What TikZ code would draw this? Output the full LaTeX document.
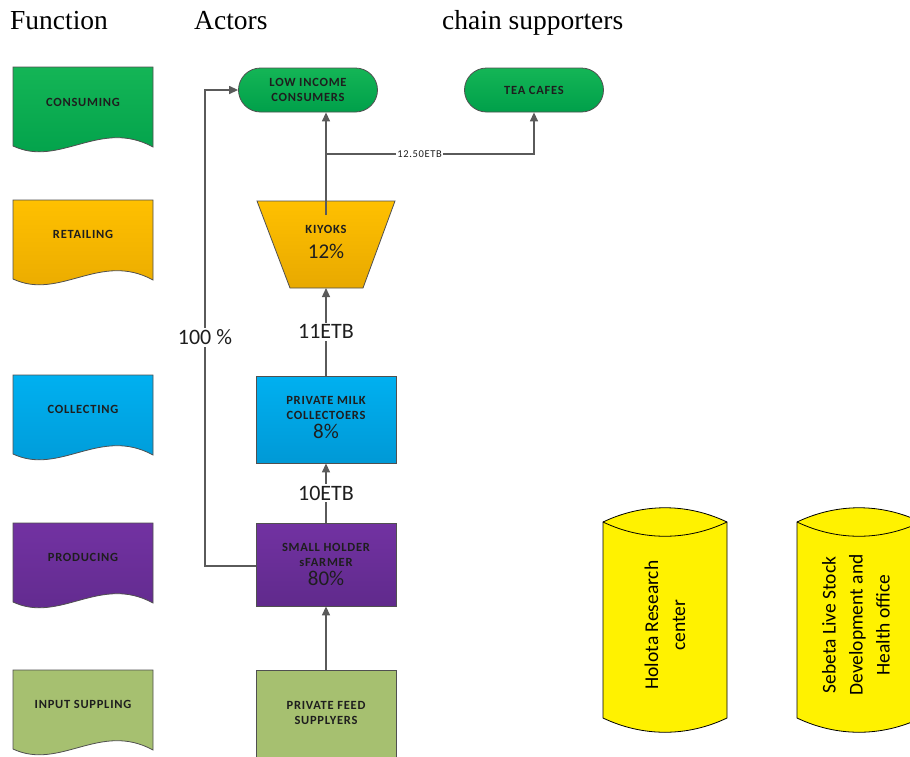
\documentclass[tikz,border=0pt]{standalone}
\usepackage{fontspec}
\setmainfont{Liberation Serif}
\newfontfamily\labfont[LetterSpace=6]{Carlito}
\newfontfamily\calfont{Carlito}
\usetikzlibrary{arrows.meta}
\definecolor{gtop}{HTML}{14B556}
\definecolor{gbot}{HTML}{00A04A}
\definecolor{otop}{HTML}{FFC000}
\definecolor{obot}{HTML}{E8A900}
\definecolor{btop}{HTML}{00B0F0}
\definecolor{bbot}{HTML}{0099D6}
\definecolor{ptop}{HTML}{7232A2}
\definecolor{pbot}{HTML}{602A8C}
\definecolor{olive}{HTML}{A6C070}
\definecolor{edge}{HTML}{505050}
\definecolor{lineg}{HTML}{5A5A5A}
\definecolor{txt}{HTML}{1E1E1E}
\newcommand\docshape[3]{%
  \path[draw=edge, line width=0.8pt, top color=#2, bottom color=#3]
    (13,#1) -- (153,#1) -- (153,#1+80)
    .. controls (100,#1+51) and (60,#1+101) .. (13,#1+79) -- cycle;}
\newcommand\cylshape[1]{%
  \path[draw=black, line width=0.8pt, fill=yellow]
    (#1,522) .. controls (#1+40,503) and (#1+84,503) .. (#1+124,522)
    -- (#1+124,718) .. controls (#1+84,737) and (#1+40,737) .. (#1,718) -- cycle;
  \draw[black, line width=0.8pt] (#1,522) .. controls (#1+40,541) and (#1+84,541) .. (#1+124,522);}
\begin{document}
\begin{tikzpicture}[x=1pt,y=-1pt,
  lbl/.style={font=\labfont\bfseries\fontsize{12.5}{15}\selectfont, text=txt, align=center},
  pill/.style={draw=edge, line width=0.8pt, top color=gtop, bottom color=gbot,
    rounded corners=22pt, minimum width=139pt, minimum height=44pt, inner sep=0pt},
  actbox/.style={draw=edge, line width=0.8pt, minimum width=140pt, inner sep=0pt},
  conn/.style={draw=lineg, line width=1.3pt},
  tip/.style={-{Triangle[length=9pt,width=8pt]}},
  pct/.style={font=\calfont\fontsize{21}{24}\selectfont},
  big/.style={pct, text=txt},
  etb/.style={font=\calfont\fontsize{22}{26}\selectfont, text=txt, fill=white, inner sep=2pt},
  head/.style={font=\fontsize{27.5}{32}\selectfont, anchor=base west, inner sep=0pt},
  cyltext/.style={font=\calfont\fontsize{19.5}{27}\selectfont, rotate=90, align=center}]
\useasboundingbox (0,0) rectangle (910,756);
\clip (0,0) rectangle (910,756);

% headers
\node[head] (hfun) at (10,29) {Function};
\node[head] (hact) at (194,29) {Actors};
\node[head] (hsup) at (442,29) {chain supporters};

% function column
\docshape{67}{gtop}{gbot}
\node[lbl] (fcons) at (83,102) {CONSUMING};
\docshape{200}{otop}{obot}
\node[lbl] (fret) at (83,234) {RETAILING};
\docshape{375}{btop}{bbot}
\node[lbl] (fcol) at (83,409) {COLLECTING};
\docshape{523}{ptop}{pbot}
\node[lbl] (fprod) at (83,557) {PRODUCING};
\docshape{670}{olive}{olive}
\node[lbl] (finp) at (83,704) {INPUT SUPPLING};

% actors
\node[pill, lbl] (lic) at (308,90) {LOW INCOME\\CONSUMERS};
\node[pill, lbl] (tea) at (534,90) {TEA CAFES};

\path[draw=edge, line width=0.8pt, top color=otop, bottom color=obot]
  (257,201) -- (395,201) -- (363,288) -- (290,288) -- cycle;
\coordinate (kiyT) at (326,215);
\coordinate (kiyB) at (326,288);
\node[lbl] (kiyl) at (326,229) {KIYOKS};
\node[big] (kiyp) at (326,251) {12\%};

\node[actbox, top color=btop, bottom color=bbot, minimum height=87pt] (col) at (326,419.5) {};
\node[lbl] (coll) at (326,418) {PRIVATE MILK\\COLLECTOERS\\[4pt]{\calfont\mdseries\fontsize{21}{24}\selectfont 8\%}};

\node[actbox, top color=ptop, bottom color=pbot, minimum height=83pt] (farm) at (326,564.5) {};
\node[lbl] (farml) at (326,564) {SMALL HOLDER\\sFARMER\\[4pt]{\calfont\mdseries\fontsize{21}{24}\selectfont 80\%}};

\node[actbox, fill=olive, minimum height=92pt] (feed) at (326,716) {};
\node[lbl] (feedl) at (326,713) {PRIVATE FEED\\SUPPLYERS};

% connectors
\draw[conn, tip] (feed.north) -- (farm.south);
\draw[conn, tip] (farm.north) -- node[etb] (e10) {10ETB} (col.south);
\draw[conn, tip] (col.north) -- node[etb] (e11) {11ETB} (kiyB);
\draw[conn, tip] (kiyT) -- (kiyT |- lic.south);
\coordinate (br) at (326,154);
\draw[conn, tip] (br) -- node[fill=white, inner sep=1pt, font=\labfont\fontsize{10.5}{12}\selectfont, text=txt, pos=0.45] (e125) {12.50ETB} (br -| tea.south) -- (tea.south);
\coordinate (lp1) at (205,566);
\draw[conn, tip] (farm.west |- lp1) -- (lp1) -- node[etb, pos=0.48] (e100) {100 \%} (lp1 |- lic.west) -- (lic.west);

% supporters
\cylshape{603}
\node[cyltext] (holota) at (665,625) {Holota Research\\center};
\cylshape{797}
\node[cyltext] (sebeta) at (856,625) {Sebeta Live Stock\\Development and\\Health office};
\end{tikzpicture}
\end{document}
